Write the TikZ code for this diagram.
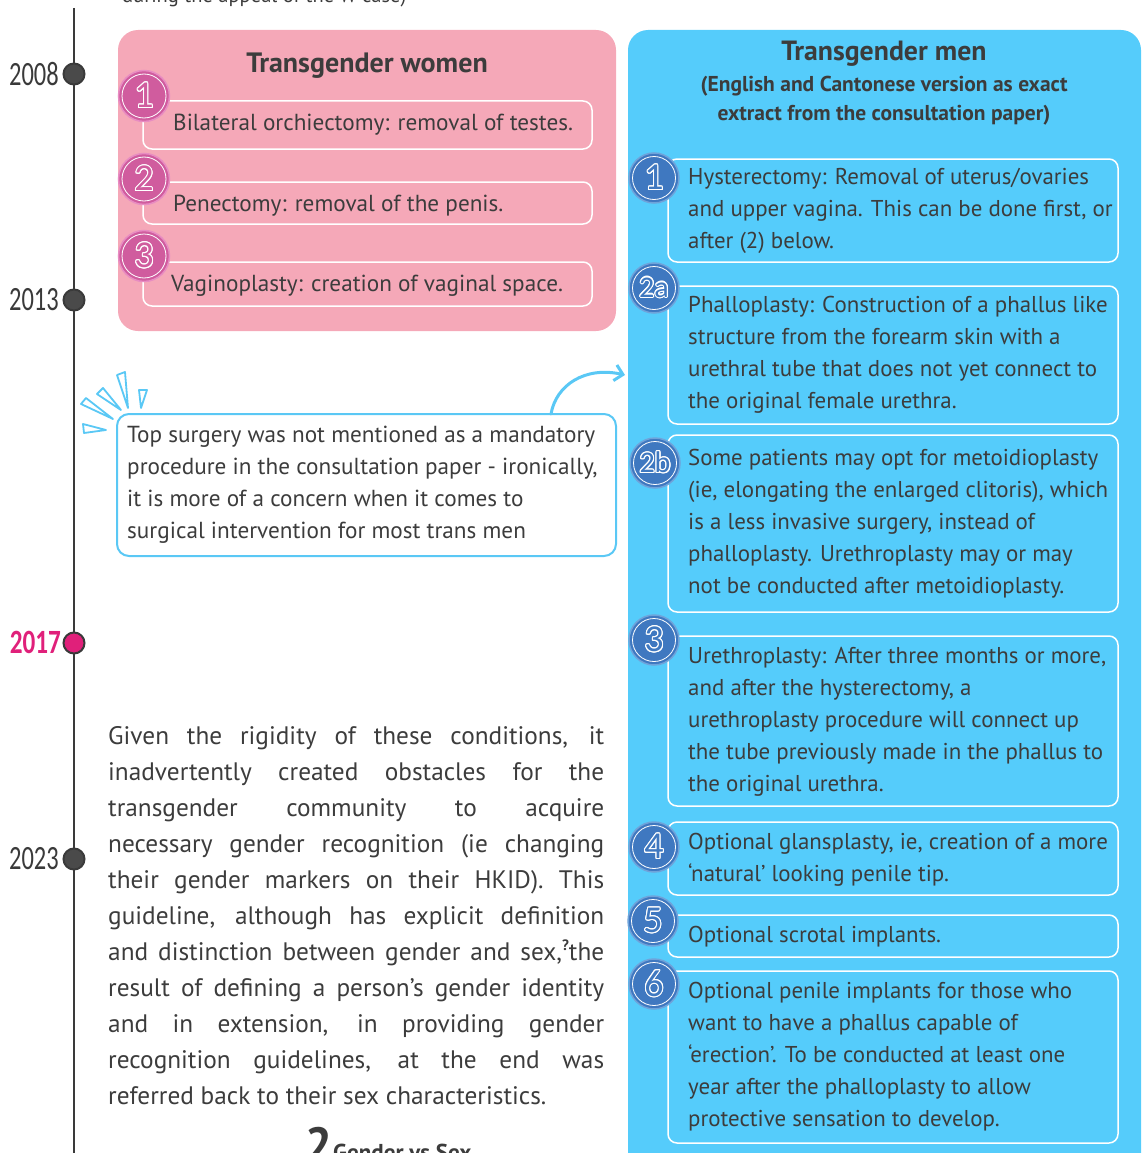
\documentclass[tikz,border=0pt]{standalone}
\usepackage{fontspec}
\setmainfont{PT Sans}
\newfontfamily\yrfont{Carlito}
\usepackage{graphicx}
\usepackage[copies]{contour}
\contourlength{1.1pt}
\usetikzlibrary{arrows.meta}
\definecolor{pinkbg}{HTML}{F5A8B8}
\definecolor{pinkcirc}{HTML}{D05C9E}
\definecolor{pinkring}{HTML}{E88CC2}
\definecolor{bluebg}{HTML}{55CCFB}
\definecolor{bluecirc}{HTML}{3F78C0}
\definecolor{bluering}{HTML}{6FA3DA}
\definecolor{callblue}{HTML}{5AC8F5}
\definecolor{tlgray}{HTML}{3A3A3A}
\definecolor{txt}{HTML}{3C3C3C}
\definecolor{yrpink}{HTML}{E0207A}
\definecolor{dotgray}{HTML}{4A4A4A}
\newcommand{\boxtext}[1]{\begin{minipage}[t]{448pt}\fontsize{23.2}{32}\selectfont #1\end{minipage}}
\newcommand{\bboxtext}[1]{\begin{minipage}[t]{440pt}\fontsize{22.9}{32}\selectfont #1\end{minipage}}
\newcommand{\pnum}[2]{\contour{white}{\textcolor{#1}{#2}}}
\tikzset{
  yearlbl/.style={anchor=east, inner sep=0pt, text=tlgray, font=\yrfont\fontsize{34}{34}\selectfont},
  tldot/.style={circle, minimum size=21pt, inner sep=0pt, fill=dotgray, draw=tlgray, line width=2pt},
  wbox/.style={draw=white, line width=1.5pt, rounded corners=9pt},
  btxt/.style={anchor=base west, inner sep=0pt, text=txt},
  pcirc/.style={circle, minimum size=51pt, inner sep=0pt, fill=pinkcirc, draw=pinkring, line width=1.5pt,
    font=\yrfont\fontsize{38}{38}\selectfont, text=pinkcirc},
  bcirc/.style={circle, minimum size=50pt, inner sep=0pt, fill=bluecirc, draw=bluering, line width=1.5pt,
    font=\yrfont\fontsize{38}{38}\selectfont, text=bluecirc},
  burst/.style={draw=callblue, line width=1.8pt, line join=round, fill=white},
}
\begin{document}
\begin{tikzpicture}[x=1pt,y=-1pt]
\useasboundingbox (0,0) rectangle (1141,1153);
\clip (0,0) rectangle (1141,1153);

% top cut text
\node[anchor=base west, inner sep=0pt, text=txt, font=\fontsize{20.5}{21}\selectfont] (toptxt) at (122,3) {during the appeal of the W case)};

% timeline
\coordinate (tltop) at (74,8);
\coordinate (tlbot) at (74,1160);
\draw[tlgray, line width=2pt] (tltop) -- (tlbot);
\node[tldot] (d2008) at (74,74) {};
\node[tldot] (d2013) at (74,300) {};
\node[tldot, fill=yrpink] (d2017) at (74,643) {};
\node[tldot] (d2023) at (74,859) {};
\node[yearlbl] (y2008) at (59,74) {\scalebox{0.72}[1]{2008}};
\node[yearlbl] (y2013) at (59,300) {\scalebox{0.72}[1]{2013}};
\node[yearlbl, text=yrpink] (y2017) at (61,642) {\scalebox{0.74}[1]{\bfseries 2017}};
\node[yearlbl] (y2023) at (59,859) {\scalebox{0.72}[1]{2023}};

% pink box
\fill[pinkbg, rounded corners=20pt] (118,30) rectangle (616,331);
\node[font=\fontsize{28}{28}\selectfont\bfseries, text=txt] (wtitle) at (367,66) {Transgender women};
\draw[wbox] (143,101) rectangle (592,149);
\draw[wbox] (143,182) rectangle (592,224);
\draw[wbox] (143,262) rectangle (592,306);
\node[btxt] (w1) at (173,131) {\boxtext{Bilateral orchiectomy: removal of testes.}};
\node[btxt] (w2) at (173,211) {\boxtext{Penectomy: removal of the penis.}};
\node[btxt] (w3) at (171,291) {\boxtext{Vaginoplasty: creation of vaginal space.}};
\node[pcirc] (pc1) at (144,96) {\pnum{pinkcirc}{1}};
\node[pcirc] (pc2) at (144,179) {\pnum{pinkcirc}{2}};
\node[pcirc] (pc3) at (144,256) {\pnum{pinkcirc}{3}};
\foreach \c in {pc1,pc2,pc3} \draw[white, line width=0.8pt] (\c) circle (22pt);

% blue box
\fill[bluebg, rounded corners=20pt] (628,30) rectangle (1141,1190);
\node[font=\fontsize{27.8}{28}\selectfont\bfseries, text=txt] (mtitle) at (884,54) {Transgender men};
\node[font=\fontsize{21.5}{29}\selectfont\bfseries, text=txt, align=center] (msub) at (884,101) {(English and Cantonese version as exact\\extract from the consultation paper)};
\draw[wbox] (668,159) rectangle (1118,262);
\draw[wbox] (668,286) rectangle (1118,424);
\draw[wbox] (668,435) rectangle (1118,612);
\draw[wbox] (668,636) rectangle (1118,806);
\draw[wbox] (668,822) rectangle (1118,895);
\draw[wbox] (668,915) rectangle (1118,957);
\draw[wbox] (668,971) rectangle (1118,1143);
\node[btxt] (m1) at (688,184) {\bboxtext{Hysterectomy: Removal of uterus/ovaries\\and upper vagina. This can be done first, or\\after (2) below.}};
\node[btxt] (m2a) at (688,312) {\bboxtext{Phalloplasty: Construction of a phallus like\\structure from the forearm skin with a\\urethral tube that does not yet connect to\\the original female urethra.}};
\node[btxt] (m2b) at (688,465) {\bboxtext{Some patients may opt for metoidioplasty\\(ie, elongating the enlarged clitoris), which\\is a less invasive surgery, instead of\\phalloplasty. Urethroplasty may or may\\not be conducted after metoidioplasty.}};
\node[btxt] (m3) at (688,663) {\bboxtext{Urethroplasty: After three months or more,\\and after the hysterectomy, a\\urethroplasty procedure will connect up\\the tube previously made in the phallus to\\the original urethra.}};
\node[btxt] (m4) at (688,849) {\bboxtext{Optional glansplasty, ie, creation of a more\\‘natural’ looking penile tip.}};
\node[btxt] (m5) at (688,942) {\bboxtext{Optional scrotal implants.}};
\node[btxt] (m6) at (688,998) {\bboxtext{Optional penile implants for those who\\want to have a phallus capable of\\‘erection’. To be conducted at least one\\year after the phalloplasty to allow\\protective sensation to develop.}};
\node[bcirc] (bc1) at (654,178) {\pnum{bluecirc}{1}};
\node[bcirc, font=\yrfont\fontsize{30}{30}\selectfont] (bc2a) at (654,288) {\pnum{bluecirc}{2a}};
\node[bcirc, font=\yrfont\fontsize{30}{30}\selectfont] (bc2b) at (655,463) {\pnum{bluecirc}{2b}};
\node[bcirc] (bc3) at (654,640) {\pnum{bluecirc}{3}};
\node[bcirc] (bc4) at (654,847) {\pnum{bluecirc}{4}};
\node[bcirc] (bc5) at (653,921) {\pnum{bluecirc}{5}};
\node[bcirc] (bc6) at (654,984) {\pnum{bluecirc}{6}};
\foreach \c in {bc1,bc2a,bc2b,bc3,bc4,bc5,bc6} \draw[white, line width=0.8pt] (\c) circle (21.5pt);

% callout
\draw[callblue, line width=2pt, fill=white, rounded corners=12pt] (117,414) rectangle (616,556);
\node[btxt] (callt) at (127,442) {\begin{minipage}[t]{488pt}\fontsize{23.2}{32}\selectfont Top surgery was not mentioned as a mandatory\\procedure in the consultation paper - ironically,\\it is more of a concern when it comes to\\surgical intervention for most trans men\end{minipage}};
\coordinate (arrstart) at (551,414);
\coordinate (arrend) at (625,375);
\draw[callblue, line width=3pt, line cap=round, -{Straight Barb[length=8pt,width=16pt,line width=3pt]}] (arrstart) .. controls (556,385) and (585,366) .. (arrend);
% burst
\draw[burst] (83,424) -- (84,433) -- (106,430) -- cycle;
\draw[burst] (81,404) -- (86,398) -- (113,419) -- cycle;
\draw[burst] (97,394) -- (103,388) -- (121,410) -- cycle;
\draw[burst] (117,375) -- (125,372) -- (128,408) -- cycle;
\draw[burst] (139,390) -- (147,390) -- (141,408) -- cycle;

% paragraph
\node[anchor=base west, inner sep=0pt, text=txt] (para) at (108,744) {\begin{minipage}[t]{500pt}\fontsize{25.3}{36}\selectfont
\makebox[496pt][s]{Given the rigidity of these conditions, it}\\
\makebox[496pt][s]{inadvertently created obstacles for the}\\
\makebox[496pt][s]{transgender community to acquire}\\
\makebox[496pt][s]{necessary gender recognition (ie changing}\\
\makebox[496pt][s]{their gender markers on their HKID). This}\\
\makebox[496pt][s]{guideline, although has explicit definition}\\
\makebox[496pt][s]{and distinction between gender and sex,\raisebox{10pt}{\fontsize{15}{15}\selectfont\bfseries ?}the}\\
\makebox[496pt][s]{result of defining a person’s gender identity}\\
\makebox[496pt][s]{and in extension, in providing gender}\\
\makebox[496pt][s]{recognition guidelines, at the end was}\\
referred back to their sex characteristics.\end{minipage}};

% bottom heading cut
\node[anchor=north west, inner sep=0pt, text=txt, font=\fontsize{48}{48}\selectfont\bfseries] (h2) at (305,1127) {2};
\node[anchor=north west, inner sep=0pt, text=txt, font=\fontsize{23}{23}\selectfont\bfseries] (h2t) at (333,1144) {Gender vs Sex};
\end{tikzpicture}
\end{document}
